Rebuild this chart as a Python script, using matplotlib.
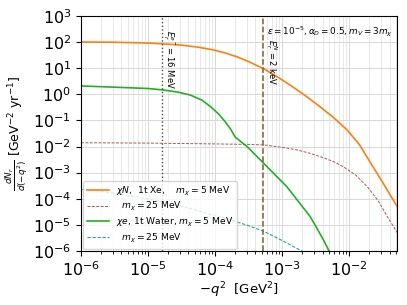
import numpy as np
import matplotlib
matplotlib.use("Agg")
import matplotlib.pyplot as plt

# chi-N, 1t Xe, m_chi = 5 MeV  (log10 values)
lq_xe5 = [-6.0, -5.5, -5.0, -4.78, -4.5, -4.25, -4.03, -3.85, -3.67, -3.5, -3.27, -3.05,
          -2.84, -2.63, -2.43, -2.23, -2.03, -1.85, -1.69, -1.5, -1.28]
lv_xe5 = [2.00, 1.99, 1.96, 1.93, 1.88, 1.80, 1.70, 1.58, 1.43, 1.25, 0.97, 0.63,
          0.28, -0.10, -0.49, -0.90, -1.37, -1.92, -2.59, -3.38, -4.32]

# chi-N, 1t Xe, m_chi = 25 MeV
lq_xe25 = [-6.0, -5.0, -4.03, -3.5, -3.27, -3.0, -2.78, -2.6, -2.43, -2.25, -2.09, -1.9,
           -1.73, -1.57, -1.43, -1.28]
lv_xe25 = [-1.855, -1.87, -1.90, -1.92, -1.94, -2.03, -2.13, -2.25, -2.39, -2.56, -2.77, -3.10,
           -3.54, -4.07, -4.69, -5.31]

# chi-e, 1t Water, m_chi = 5 MeV
lq_w5 = [-6.0, -5.5, -5.0, -4.78, -4.55, -4.37, -4.2, -4.07, -3.95, -3.85, -3.77, -3.70,
         -3.52, -3.28, -2.93, -2.58, -2.40, -2.25]
lv_w5 = [0.318, 0.27, 0.22, 0.165, 0.08, -0.03, -0.22, -0.47, -0.75, -1.05, -1.33, -1.64,
         -2.01, -2.63, -3.54, -4.69, -5.50, -6.25]

# chi-e, 1t Water, m_chi = 25 MeV
lq_w25 = [-6.0, -5.75, -5.52, -5.2, -4.78, -4.4, -4.03, -3.75, -3.48, -3.27, -3.0, -2.73, -2.6]
lv_w25 = [-3.64, -3.70, -3.78, -3.92, -4.11, -4.35, -4.62, -4.82, -5.05, -5.25, -5.6, -5.97, -6.15]

# recoil thresholds [GeV^2]
q_thr_e = 1.635e-5
q_thr_N = 5.2e-4


def p10(a):
    return np.power(10.0, np.asarray(a))


fig = plt.figure(figsize=(4.07, 3.05), dpi=100)
ax = fig.add_axes([0.199, 0.177, 0.777, 0.771])

ax.plot(p10(lq_xe5), p10(lv_xe5), color="#ff7f0e", lw=1.2,
        label=r"$\chi N$,  1t Xe,    $m_\chi=5$ MeV")
ax.plot(p10(lq_xe25), p10(lv_xe25), color="#b5544c", lw=0.7, ls=(0, (3, 1.5)),
        label=r"  $m_\chi=25$ MeV")
ax.plot(p10(lq_w5), p10(lv_w5), color="#22b022", lw=1.2,
        label=r"$\chi e$, 1t Water, $m_\chi=5$ MeV")
ax.plot(p10(lq_w25), p10(lv_w25), color="#2aa198", lw=0.8, ls=(0, (3, 1.5)),
        label=r"  $m_\chi=25$ MeV")

ax.axvline(q_thr_e, color="#444444", lw=1.0, ls=":")
ax.axvline(q_thr_N, color="#8b5a2b", lw=1.1, ls="--")

ax.set_xscale("log")
ax.set_yscale("log")
ax.set_xlim(1e-6, 0.052)
ax.set_ylim(1e-6, 1e3)
ax.set_xticks([1e-6, 1e-5, 1e-4, 1e-3, 1e-2])
ax.set_yticks([10.0**k for k in range(-6, 4)])
ax.grid(True, which="major", color="#d8d8d8", lw=0.7)
ax.grid(True, which="minor", color="#e4e4e4", lw=0.6)
ax.set_axisbelow(True)
ax.tick_params(labelsize=11.5)

ax.set_xlabel(r"$-q^2$  [GeV$^2$]", fontsize=9.5, labelpad=1)
ax.set_ylabel(r"$\frac{dN_r}{d(-q^2)}$ [GeV$^{-2}$ yr$^{-1}$]", fontsize=9, labelpad=2)

ax.text(0.985, 0.965, r"$\epsilon=10^{-5},\alpha_D=0.5,m_V=3m_\chi$", transform=ax.transAxes,
        ha="right", va="top", fontsize=6.4)
ax.text(2.0e-5, 290, r"$E_r^{e^-}=16$ MeV", rotation=270, ha="center", va="top", fontsize=6)
ax.text(7.0e-4, 130, r"$E_r^{N}=2$ keV", rotation=270, ha="center", va="top", fontsize=6)

ax.legend(loc="lower left", fontsize=6.6, handlelength=2.4, borderaxespad=0.25,
          labelspacing=0.3)

fig.savefig("out.png", dpi=100)
